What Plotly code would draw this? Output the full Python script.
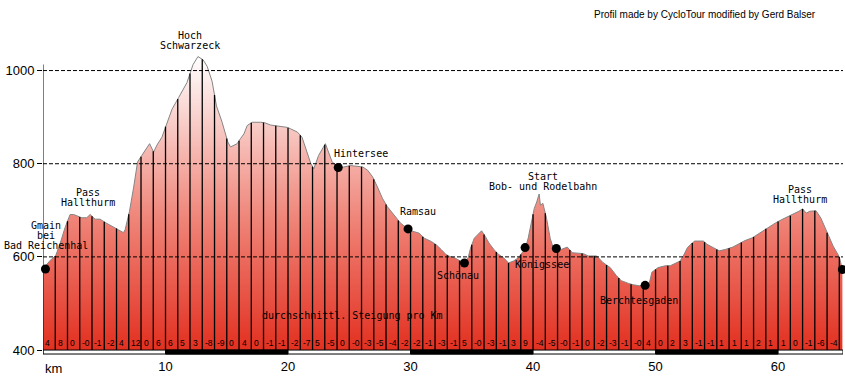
import numpy as np
import plotly.graph_objects as go

# ---- data ----
km = [0.0, 0.57, 1.04, 1.39, 1.8, 2.21, 2.5, 2.75, 3.16, 3.57, 3.85, 4.25, 4.66, 5.07, 5.62, 6.16,
      6.57, 6.71, 7.06, 7.39, 7.72, 8.07, 8.48, 8.7, 9.03, 9.3, 9.71, 10.12, 10.53, 11.07, 11.75,
      12.25, 12.65, 13.07, 13.4, 13.8, 14.16, 14.62, 15.08, 15.3, 15.58, 15.85, 16.12, 16.4, 16.67,
      17.07, 17.76, 18.09, 18.58, 19.1, 19.94, 20.2, 20.76, 21.14, 21.55, 21.85, 22.1, 22.5, 23.05,
      23.2, 23.6, 24.1, 24.55, 25.1, 25.66, 26.1, 26.5, 26.9, 27.3, 27.7, 28.1, 28.7, 29.2, 29.8,
      30.17, 30.7, 31.13, 31.7, 32.1, 32.5, 32.9, 33.2, 33.6, 34.0, 34.4, 34.7, 34.9, 35.2, 35.5,
      35.8, 36.1, 36.4, 36.8, 37.2, 37.6, 38.0, 38.4, 38.8, 39.2, 39.4, 39.6, 39.9, 40.1, 40.3,
      40.5, 40.6, 40.8, 41.1, 41.4, 41.6, 41.9, 42.3, 42.8, 43.2, 44.1, 44.5, 45.2, 45.7, 46.3,
      46.8, 47.2, 47.8, 48.2, 48.7, 49.2, 49.5, 49.7, 50.2, 50.8, 51.2, 51.6, 52.0, 52.3, 52.6,
      53.0, 53.2, 53.9, 54.2, 54.7, 55.2, 55.7, 56.3, 56.8, 57.3, 57.9, 58.3, 58.7, 59.3, 59.8,
      60.3, 60.9, 61.3, 61.7, 62.0, 62.3, 62.6, 63.1, 63.5, 64.0, 64.5, 65.0, 65.25]
elev = [574, 592, 603, 628, 663, 691, 691, 688, 684, 684, 691, 681, 681, 674, 666, 659,
        652, 659, 698, 748, 804, 818, 836, 843, 825, 840, 857, 889, 917, 942, 974,
        1013, 1030, 1023, 1009, 977, 924, 889, 847, 836, 840, 843, 854, 864, 882,
        889, 889, 888, 883, 881, 878, 875, 868, 857, 822, 801, 789, 818, 843,
        832, 804, 793, 793, 796, 795, 793, 786, 772, 750, 726, 708, 687, 672, 660,
        655, 651, 640, 633, 626, 616, 605, 601, 598, 592, 587, 598, 619, 640, 648,
        656, 644, 630, 616, 605, 598, 587, 591, 598, 612, 621, 640, 679, 704, 718,
        735, 711, 715, 683, 640, 623, 618, 616, 621, 609, 607, 602, 602, 588, 577,
        560, 549, 543, 540, 538, 540, 545, 567, 577, 581, 581, 586, 591, 604, 620,
        630, 634, 634, 627, 620, 613, 616, 621, 628, 635, 641, 648, 655, 666, 673,
        680, 687, 692, 698, 703, 694, 698, 699, 683, 652, 623, 600, 573]

# gradient row (65 cells, km 0..64)
gradients = ["4", "8", "0", "-0", "-1", "-2", "4", "12", "0", "6",
             "6", "5", "3", "-8", "-9", "0", "4", "0", "-1", "-1",
             "-2", "-7", "5", "-5", "0", "-0", "-3", "-5", "-4", "-2",
             "-2", "-1", "-3", "-1", "5", "-0", "-3", "-1", "3", "9",
             "-4", "-5", "-0", "-1", "0", "-2", "-3", "-1", "-0", "4",
             "0", "2", "3", "-1", "-1", "1", "1", "1", "2", "1",
             "1", "0", "-1", "-6", "-4"]
gradient_caption = "durchschnittl. Steigung pro Km"

places_km = [0.2, 24.1, 29.8, 34.4, 39.35, 41.9, 49.15, 65.25]
places_elev = [574, 792, 660, 587, 620, 618, 539, 573]

# labels: (lines, km, elev of each line)
labels = [
    (["Hoch", "Schwarzeck"], 12.0, [1076, 1053]),
    (["Pass", "Hallthurm"], 3.67, [738, 717]),
    (["Gmain", "bei", "Bad Reichenhal"], 0.25, [668, 647, 625]),
    (["Hintersee"], 25.96, [823]),
    (["Ramsau"], 30.6, [698]),
    (["Schönau"], 33.88, [560]),
    (["Start", "Bob- und Rodelbahn"], 40.8, [772, 751]),
    (["Königssee"], 40.73, [583]),
    (["Berchtesgaden"], 48.65, [506]),
    (["Pass", "Hallthurm"], 61.8, [745, 723]),
]

ytick_vals = [400, 600, 800, 1000]
xtick_vals = [10, 20, 30, 40, 50, 60]

# ---- figure ----
XMAX = 65.3
YLO = 400 - 7 / 0.47
YHI = YLO + 340 / 0.47
BAR_LO = 400 - 4 / 0.47

fig = go.Figure()

fig.add_trace(go.Scatter(x=[0, km[-1]], y=[400, 400], mode="lines",
                         line=dict(width=0), hoverinfo="skip", showlegend=False))
fig.add_trace(go.Scatter(
    x=km, y=elev, mode="lines", fill="tonexty",
    line=dict(color="#858585", width=1),
    fillgradient=dict(type="vertical",
                      colorscale=[[0, "rgb(226,46,30)"], [0.45, "rgb(239,132,120)"], [1, "rgb(255,255,255)"]],
                      start=400, stop=1032),
    showlegend=False, hoverinfo="skip"))

# km lines
vx, vy = [], []
for k in range(1, int(np.floor(km[-1])) + 1):
    vx += [k, k, None]
    vy += [400, float(np.interp(k, km, elev)), None]
fig.add_trace(go.Scatter(x=vx, y=vy, mode="lines", line=dict(color="black", width=1.3),
                         showlegend=False, hoverinfo="skip"))

# dashed grid on top
gx, gy = [], []
for v in ytick_vals[1:]:
    gx += [0, XMAX, None]
    gy += [v, v, None]
fig.add_trace(go.Scatter(x=gx, y=gy, mode="lines",
                         line=dict(color="black", width=1, dash="4px,2px"),
                         showlegend=False, hoverinfo="skip"))

fig.add_trace(go.Scatter(x=places_km, y=places_elev, mode="markers",
                         marker=dict(color="black", size=9), showlegend=False,
                         hoverinfo="skip", cliponaxis=False))

shapes = [
    dict(type="rect", xref="x", yref="y", x0=0, x1=XMAX, y0=BAR_LO, y1=400,
         fillcolor="white", line=dict(color="black", width=1), layer="above"),
]
for a in (10, 30, 50):
    shapes.append(dict(type="rect", xref="x", yref="y", x0=a, x1=a + 10, y0=BAR_LO, y1=400,
                       fillcolor="black", line=dict(color="black", width=1), layer="above"))
shapes.append(dict(type="line", xref="x", yref="y", x0=0, x1=0, y0=BAR_LO, y1=1013,
                   line=dict(color="black", width=1), layer="above"))

ann = []
lab_font = dict(family="DejaVu Sans Mono", size=10, color="black")
for lines, kx, ys in labels:
    for t, yy in zip(lines, ys):
        ann.append(dict(x=kx, y=yy, xref="x", yref="y", text=t, showarrow=False,
                        font=lab_font, xanchor="center", yanchor="middle", borderpad=0))
ann.append(dict(x=25.25, y=474.5, xref="x", yref="y", text=gradient_caption, showarrow=False,
                font=lab_font, xanchor="center", yanchor="middle", borderpad=0))
for i, g in enumerate(gradients):
    ann.append(dict(x=i + 0.04, y=414.5, xref="x", yref="y", text=g, showarrow=False,
                    font=dict(family="Liberation Sans", size=8.5, color="black"),
                    xanchor="left", yanchor="middle"))
ann.append(dict(x=0, y=-0.005, xref="x", yref="paper", text="km", showarrow=False,
                font=dict(family="Liberation Sans", size=13, color="black"),
                xanchor="left", yanchor="top"))
ann.append(dict(x=(705 - 43) / 800, y=(360 - 14) / 340, xref="paper", yref="paper",
                text="Profil made by CycloTour modified by Gerd Balser", showarrow=False,
                font=dict(family="Liberation Sans", size=10, color="black"),
                xanchor="center", yanchor="middle"))

fig.update_layout(
    width=845, height=376,
    margin=dict(l=43, r=2, t=20, b=16),
    paper_bgcolor="white", plot_bgcolor="white",
    shapes=shapes, annotations=ann,
    xaxis=dict(range=[0, XMAX], showgrid=False, zeroline=False, showline=False,
               tickvals=xtick_vals, ticks="",
               tickfont=dict(family="Liberation Sans", size=13, color="black")),
    yaxis=dict(range=[YLO, YHI], showgrid=False, zeroline=False, showline=False,
               tickvals=ytick_vals, ticks="outside", ticklen=5, tickcolor="black",
               tickfont=dict(family="Liberation Sans", size=13, color="black")),
)

fig.write_html("out.html", config={"displayModeBar": False},
               post_script="document.body.style.margin='0px';document.body.style.overflow='hidden';")
